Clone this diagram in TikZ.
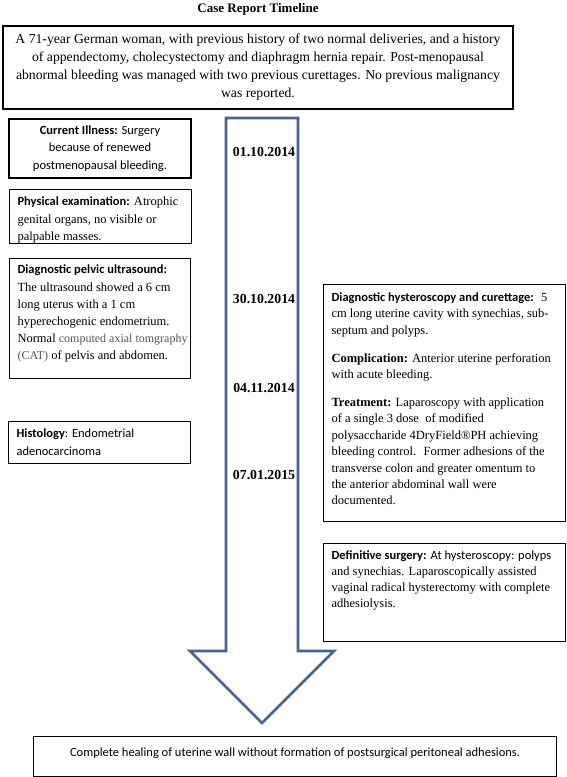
\documentclass[tikz,border=0pt]{standalone}
\usepackage{fontspec}
\setmainfont{Liberation Serif}
\newfontfamily\calibri{Carlito}
\usetikzlibrary{positioning}

\definecolor{arrowblue}{RGB}{70,100,140}
\definecolor{catgray}{RGB}{85,85,85}

\newcommand{\lbl}[1]{{\calibri\bfseries #1}}
\newcommand{\cattext}[1]{{\color{catgray}\fontsize{12}{16.8}\selectfont #1}}
% width, height, line skip, first baseline, text
\newcommand{\boxtext}[5]{\parbox[c][#2][t]{#1}{\fontsize{12.5}{#3}\selectfont\raggedright\leftskip=8pt\rule{0pt}{#4}#5}}

\tikzset{
  tlbox/.style={draw, line width=1.1pt, inner sep=0pt, anchor=north west},
  datelbl/.style={font=\fontsize{13.8}{16}\selectfont\bfseries},
  timearrow/.style={draw=arrowblue, line width=2.6pt, fill=white, line join=miter}
}

\begin{document}
\begin{tikzpicture}[x=1pt,y=-1pt]
\useasboundingbox (0,0) rectangle (567,777);

% title and history
\node[font=\fontsize{13}{16}\selectfont\bfseries] (title) at (258,9) {Case Report Timeline};
\node[tlbox, anchor=center, minimum width=510pt, minimum height=83pt, align=center,
  font=\fontsize{13.7}{18}\selectfont] (history) at (258,67.5)
  {A 71-year German woman, with previous history of two normal deliveries, and a history\\
   of appendectomy, cholecystectomy and diaphragm hernia repair. Post-menopausal\\
   abnormal bleeding was managed with two previous curettages. No previous malignancy\\
   was reported.};

% timeline arrow
\draw[timearrow] (226,118) -- (298,118) -- (298,651) -- (334,651) -- (262,723)
  -- (190,651) -- (226,651) -- cycle;
\foreach \d/\y [count=\i] in {01.10.2014/152, 30.10.2014/299, 04.11.2014/388, 07.01.2015/475}
  \node[datelbl] (date\i) at (264,\y) {\d};

% left column
\node[tlbox, anchor=center, minimum width=182pt, minimum height=59pt, align=center,
  font=\calibri\fontsize{12.5}{17.5}\selectfont] (illness) at (100,148.5)
  {\textbf{Current Illness:} Surgery\\ because of renewed\\ postmenopausal bleeding.};
\node[tlbox] (exam) at (9,189) {\boxtext{182pt}{54pt}{17.5pt}{16pt}{%
  \lbl{Physical examination:} Atrophic\\ genital organs, no visible or\\ palpable masses.}};
\node[tlbox] (usound) at (9,258) {\boxtext{181pt}{120pt}{16.8pt}{15pt}{%
  \lbl{Diagnostic pelvic ultrasound:}\\[1.5pt]
  The ultrasound showed a 6 cm\\ long uterus with a 1 cm\\ hyperechogenic endometrium.\\
  Normal \cattext{computed axial tomgraphy}\\ \cattext{(CAT)} of pelvis and abdomen.}};
\node[tlbox] (histo) at (8,421) {\boxtext{182pt}{42pt}{18pt}{16pt}{%
  \calibri\textbf{Histology}: Endometrial\\ adenocarcinoma}};

% right column
\node[tlbox] (hystero) at (323,284) {\boxtext{242pt}{237pt}{16.4pt}{17pt}{%
  \lbl{Diagnostic hysteroscopy and curettage:}~ 5\\
  cm long uterine cavity with synechias, sub-\\ septum and polyps.\\[11.5pt]
  \textbf{Complication:} Anterior uterine perforation\\ with acute bleeding.\\[11.5pt]
  \textbf{Treatment:} Laparoscopy with application\\ of a single 3 dose~ of modified\\
  polysaccharide 4DryField®PH achieving\\ bleeding control.~ Former adhesions of the\\
  transverse colon and greater omentum to\\ the anterior abdominal wall were\\ documented.}};
\node[tlbox] (definitive) at (323,543) {\boxtext{242pt}{98pt}{16pt}{16pt}{%
  \lbl{Definitive surgery:} {\calibri At hysteroscopy: polyps}\\
  and synechias. Laparoscopically assisted\\ vaginal radical hysterectomy with complete\\
  adhesiolysis.}};

% outcome
\node[tlbox] (healing) at (33,736) {\parbox[c][40pt][t]{523pt}{\centering
  \calibri\fontsize{12.5}{15}\selectfont\rule{0pt}{20pt}Complete healing of uterine wall
  without formation of postsurgical peritoneal adhesions.}};
\end{tikzpicture}
\end{document}
